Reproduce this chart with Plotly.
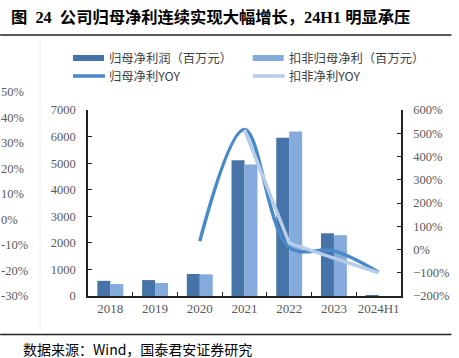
import plotly.graph_objects as go

# ---------------- data ----------------
categories = ["2018", "2019", "2020", "2021", "2022", "2023", "2024H1"]
net_profit = [570, 600, 830, 5110, 5960, 2360, 30]          # 归母净利润（百万元）
net_profit_deduct = [450, 490, 815, 4950, 6190, 2290, 0]    # 扣非归母净利（百万元）
yoy_cats = ["2020", "2021", "2022", "2023", "2024H1"]
net_profit_yoy = [36, 516, 8, -6, -98]                       # 归母净利YOY (%)
deduct_yoy_cats = ["2021", "2022", "2023", "2024H1"]
deduct_yoy = [516, 27, -37, -100]                            # 扣非净利YOY (%)
ghost_labels = ["50%", "40%", "30%", "20%", "10%", "0%", "-10%", "-20%", "-30%"]

W, H = 459, 358
L, R, T, B = 88, 401.5, 110, 296   # plot area in pixels

def px(x):
    return (x - L) / (R - L)

def py(y):
    return (B - y) / (B - T)

SERIF = "'Liberation Serif', 'Times New Roman', 'Noto Sans CJK SC', serif"
CJK = "'Noto Sans CJK SC', 'Liberation Serif', sans-serif"
C_DARK = "#4674A8"
C_LIGHT = "#84ABDC"
C_LINE1 = "#4A89C8"
C_LINE2 = "#B6CDE9"

fig = go.Figure()
fig.add_trace(go.Bar(x=categories, y=net_profit, name="归母净利润（百万元）",
                     marker=dict(color=C_DARK, line=dict(width=0))))
fig.add_trace(go.Bar(x=categories, y=net_profit_deduct, name="扣非归母净利（百万元）",
                     marker=dict(color=C_LIGHT, line=dict(width=0))))
fig.add_trace(go.Scatter(x=yoy_cats, y=net_profit_yoy, name="归母净利YOY", yaxis="y2",
                         mode="lines", line=dict(color=C_LINE1, width=3.5, shape="spline", smoothing=1.0)))
fig.add_trace(go.Scatter(x=deduct_yoy_cats, y=deduct_yoy, name="扣非净利YOY", yaxis="y2",
                         mode="lines", line=dict(color=C_LINE2, width=3.5)))

shapes = []
annotations = []

# title & rules
annotations.append(dict(xref="paper", yref="paper", x=px(9), y=py(17), xanchor="left", yanchor="middle",
                        text="<b>图  24  公司归母净利连续实现大幅增长，24H1 明显承压</b>", showarrow=False,
                        font=dict(family=SERIF, size=16.3, color="#000000")))
shapes.append(dict(type="line", xref="paper", yref="paper", x0=px(0), x1=px(452), y0=py(35), y1=py(35),
                   line=dict(color="#222222", width=1.5)))
shapes.append(dict(type="line", xref="paper", yref="paper", x0=px(0), x1=px(452), y0=py(334.5), y1=py(334.5),
                   line=dict(color="#222222", width=1.5)))
annotations.append(dict(xref="paper", yref="paper", x=px(21), y=py(349), xanchor="left", yanchor="middle",
                        text="数据来源：Wind，国泰君安证券研究", showarrow=False,
                        font=dict(family=CJK, size=14, color="#000000")))

# faint vertical separator and cut-off ghost axis labels at the left
shapes.append(dict(type="line", xref="paper", yref="paper", x0=px(40), x1=px(40), y0=py(40), y1=py(334),
                   line=dict(color="#f0f0f0", width=1)))
for i, lab in enumerate(ghost_labels):
    annotations.append(dict(xref="paper", yref="paper", x=px(-1), y=py(92 + i * 25.5), xanchor="left",
                            yanchor="middle", text=lab, showarrow=False,
                            font=dict(family=SERIF, size=12.5, color="#595959")))

# manual legend
leg = [
    (73, 58, "rect", C_DARK, "归母净利润（百万元）"),
    (253, 58, "rect", C_LIGHT, "扣非归母净利（百万元）"),
    (73, 76, "line", C_LINE1, "归母净利YOY"),
    (253, 76, "line", C_LINE2, "扣非净利YOY"),
]
for x0, yc, kind, col, txt in leg:
    if kind == "rect":
        shapes.append(dict(type="rect", xref="paper", yref="paper", x0=px(x0), x1=px(x0 + 31),
                           y0=py(yc + 3), y1=py(yc - 3), fillcolor=col, line=dict(width=0)))
    else:
        shapes.append(dict(type="line", xref="paper", yref="paper", x0=px(x0), x1=px(x0 + 32),
                           y0=py(yc), y1=py(yc), line=dict(color=col, width=3.5)))
    annotations.append(dict(xref="paper", yref="paper", x=px(x0 + 34), y=py(yc), xanchor="left",
                            yanchor="middle", text=txt, showarrow=False,
                            font=dict(family=CJK, size=12.3, color="#404040")))

fig.update_layout(
    width=W, height=H,
    margin=dict(l=L, r=W - R, t=T, b=H - B, pad=0, autoexpand=False),
    paper_bgcolor="white", plot_bgcolor="white",
    barmode="group", bargap=0.42, bargroupgap=0,
    showlegend=False,
    shapes=shapes, annotations=annotations,
    xaxis=dict(type="category", showgrid=False, showline=True, linecolor="#222222", linewidth=1.5,
               ticks="inside", tickson="boundaries", ticklen=4, tickcolor="#222222", tickangle=0,
               tickfont=dict(family=SERIF, size=13, color="#595959"), zeroline=False),
    yaxis=dict(range=[0, 7000], dtick=1000, showgrid=False, showline=True, linecolor="#222222",
               linewidth=1.5, ticks="inside", ticklen=4, tickcolor="#222222", zeroline=False,
               tickfont=dict(family=SERIF, size=12.5, color="#595959"), ticklabelstandoff=8),
    yaxis2=dict(range=[-200, 600], dtick=100, overlaying="y", side="right", showgrid=False,
                showline=True, linecolor="#222222", linewidth=1.5, ticks="inside", ticklen=4,
                tickcolor="#222222", ticksuffix="%", zeroline=False,
                tickfont=dict(family=SERIF, size=12.5, color="#595959"), ticklabelstandoff=8),
)

fig.write_html("out.html", config={"displayModeBar": False},
               post_script="document.body.style.margin='0';")
